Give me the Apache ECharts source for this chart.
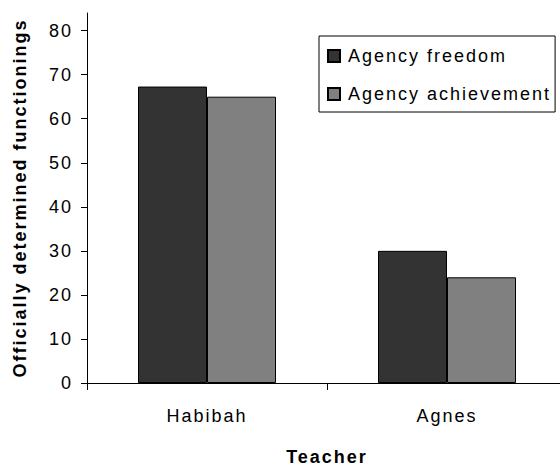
<!DOCTYPE html>
<html>
<head>
<meta charset="utf-8">
<script src="https://cdn.jsdelivr.net/npm/echarts@6/dist/echarts.min.js"></script>
<style>
  html, body { margin: 0; padding: 0; background: #ffffff; }
  #main { width: 560px; height: 466px; }
  #main text { letter-spacing: 2px !important; }
</style>
</head>
<body>
<div id="main"></div>
<script>
const categories = ['Habibah', 'Agnes'];
const seriesNames = ['Agency freedom', 'Agency achievement'];
const agencyFreedom = [67.3, 30];
const agencyAchievement = [65, 24];
const yTicks = [0, 10, 20, 30, 40, 50, 60, 70, 80];
const xTitle = 'Teacher';
const yTitle = 'Officially determined functionings';

const FONT = '"Liberation Sans", Arial, sans-serif';
const chart = echarts.init(document.getElementById('main'), null, { renderer: 'svg' });

chart.setOption({
  animation: false,
  backgroundColor: '#ffffff',
  textStyle: { fontFamily: FONT, color: '#000' },
  grid: { left: 87, top: 13, width: 480, height: 370, containLabel: false, outerBoundsMode: 'none' },
  legend: {
    orient: 'vertical',
    left: 319,
    top: 36,
    data: seriesNames,
    icon: 'rect',
    itemWidth: 12,
    itemHeight: 12,
    itemGap: 18,
    padding: [10, 40, 8, 8],
    borderColor: '#000',
    borderWidth: 1,
    backgroundColor: '#fff',
    textStyle: { fontSize: 18, fontFamily: FONT, color: '#000', lineHeight: 20, padding: [0, 0, 0, 3] }
  },
  xAxis: {
    type: 'category',
    data: categories,
    name: xTitle,
    nameLocation: 'middle',
    nameGap: 65,
    nameTextStyle: { fontSize: 18, fontWeight: 'bold', fontFamily: FONT, color: '#000' },
    axisLine: { lineStyle: { color: '#000', width: 1 } },
    axisTick: { show: true, length: 7, lineStyle: { color: '#000', width: 1 } },
    axisLabel: { fontSize: 18, fontFamily: FONT, color: '#000', margin: 24 },
    splitLine: { show: false }
  },
  yAxis: {
    type: 'value',
    min: 0,
    max: 84,
    name: yTitle,
    nameLocation: 'middle',
    nameGap: 58,
    nameTextStyle: { fontSize: 18, fontWeight: 'bold', fontFamily: FONT, color: '#000' },
    axisLine: { show: true, lineStyle: { color: '#000', width: 1 } },
    axisTick: { show: true, length: 6, customValues: yTicks, lineStyle: { color: '#000', width: 1 } },
    axisLabel: { fontSize: 18, fontFamily: FONT, color: '#000', margin: 14, customValues: yTicks },
    splitLine: { show: false }
  },
  series: [
    {
      name: seriesNames[0],
      type: 'bar',
      data: agencyFreedom,
      barWidth: 69,
      barGap: '0%',
      itemStyle: { color: '#333333', borderColor: '#000', borderWidth: 1 }
    },
    {
      name: seriesNames[1],
      type: 'bar',
      data: agencyAchievement,
      barWidth: 69,
      barGap: '0%',
      itemStyle: { color: '#808080', borderColor: '#000', borderWidth: 1 }
    }
  ]
});
</script>
</body>
</html>
